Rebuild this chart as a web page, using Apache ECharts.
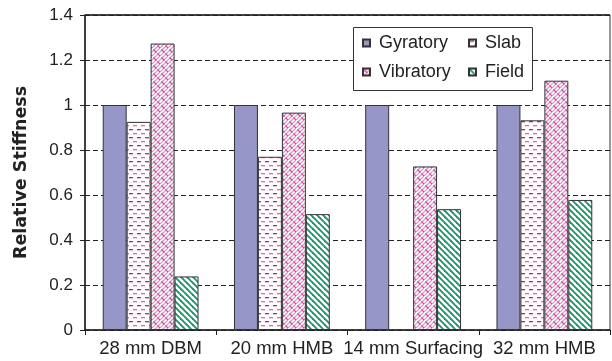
<!DOCTYPE html>
<html><head><meta charset="utf-8">
<script src="https://cdn.jsdelivr.net/npm/echarts@6/dist/echarts.min.js"></script>
<style>html,body{margin:0;padding:0;background:#fff}#c{width:612px;height:361px}</style>
</head><body><div id="c"></div>
<script>
const categories = ['28 mm DBM', '20 mm HMB', '14 mm Surfacing', '32 mm HMB'];
const gyratory = [1, 1, 1, 1];
const slab = [0.925, 0.77, null, 0.932];
const vibratory = [1.273, 0.966, 0.727, 1.108];
const field = [0.238, 0.515, 0.537, 0.578];
const yTicks = [0, 0.2, 0.4, 0.6, 0.8, 1, 1.2, 1.4];

function tile(w, h, draw) {
  const c = document.createElement('canvas');
  c.width = w; c.height = h;
  const g = c.getContext('2d');
  g.fillStyle = '#fff'; g.fillRect(0, 0, w, h);
  draw(g);
  return { image: c, repeat: 'repeat' };
}
const slabPat = tile(8, 8, g => {
  g.fillStyle = '#c0207e';
  g.fillRect(1, 1, 4, 1.3);
  g.fillStyle = '#dc6cae';
  g.fillRect(5, 5, 3, 1.3); g.fillRect(0, 5, 1, 1.3);
});
const vibPat = tile(8, 8, g => {
  g.lineWidth = 1.2;
  g.strokeStyle = '#dc8cc6';
  g.beginPath(); g.moveTo(-1, 9); g.lineTo(9, -1); g.stroke();
  g.beginPath(); g.moveTo(-1, 5); g.lineTo(5, -1); g.stroke();
  g.beginPath(); g.moveTo(3, 9); g.lineTo(9, 3); g.stroke();
  g.strokeStyle = '#c04a9c';
  g.beginPath(); g.moveTo(1.5, 1.5); g.lineTo(4.5, 4.5); g.stroke();
  g.beginPath(); g.moveTo(5.5, 5.5); g.lineTo(8.5, 8.5); g.stroke();
});
const fieldPat = tile(6, 6, g => {
  g.strokeStyle = '#1f9468'; g.lineWidth = 1.9;
  g.beginPath(); g.moveTo(-1, -1); g.lineTo(7, 7); g.stroke();
  g.beginPath(); g.moveTo(-4, 2); g.lineTo(4, 10); g.stroke();
  g.beginPath(); g.moveTo(2, -4); g.lineTo(10, 4); g.stroke();
});

const chart = echarts.init(document.getElementById('c'), null, { renderer: 'canvas' });
const border = { borderColor: '#333', borderWidth: 1 };
function mk(name, data, color) {
  return { name, type: 'bar', data, barGap: 0, barCategoryGap: '27%',
    itemStyle: Object.assign({ color }, border), emphasis: { disabled: true } };
}
const legendBase = {
  orient: 'vertical', top: 34, itemWidth: 7, itemHeight: 7, itemGap: 11,
  padding: 0, icon: 'rect',
  textStyle: { fontSize: 18, color: '#222', fontFamily: 'Liberation Sans', padding: [0, 0, 0, 4] }
};
chart.setOption({
  animation: false,
  textStyle: { fontFamily: 'Liberation Sans, Arial, sans-serif' },
  grid: { left: 85, right: 2, top: 15, bottom: 31, containLabel: false,
    show: true, borderColor: '#333', borderWidth: 1 },
  legend: [
    Object.assign({ left: 362, data: ['Gyratory', 'Vibratory'] }, legendBase),
    Object.assign({ left: 468, data: ['Slab', 'Field'] }, legendBase)
  ],
  xAxis: {
    type: 'category', data: categories,
    axisLine: { lineStyle: { color: '#222', width: 1.5 } },
    axisTick: { show: true, length: 5, lineStyle: { color: '#222' } },
    axisLabel: { fontSize: 18.5, color: '#222', margin: 9, interval: 0 }
  },
  yAxis: {
    type: 'value', min: 0, max: 1.4, interval: 0.2,
    name: 'Relative Stiffness', nameLocation: 'middle', nameGap: 55,
    nameTextStyle: { fontSize: 17.5, fontWeight: 'bold', color: '#222', fontFamily: 'DejaVu Sans' },
    axisLine: { show: true, lineStyle: { color: '#222', width: 1.5 } },
    axisTick: { show: true, length: 5, inside: false, lineStyle: { color: '#222' } },
    axisLabel: { fontSize: 17, color: '#222', margin: 12,
      formatter: v => { const t = yTicks.find(x => Math.abs(x - v) < 1e-6); return t === undefined ? '' : String(t); } },
    splitLine: { show: true, lineStyle: { color: '#222', type: [5, 3], width: 1 } }
  },
  series: [
    mk('Gyratory', gyratory, '#9696c8'),
    mk('Slab', slab, slabPat),
    mk('Vibratory', vibratory, vibPat),
    mk('Field', field, fieldPat)
  ],
  graphic: [
    { type: 'line', shape: { x1: 85, y1: 15, x2: 610, y2: 15 }, style: { stroke: '#222', lineWidth: 1.5 }, z: 10 },
    { type: 'rect', shape: { x: 353.5, y: 27.5, width: 179, height: 63 }, style: { fill: '#fff', stroke: '#333', lineWidth: 1 }, z: 1 }
  ]
});
</script></body></html>
